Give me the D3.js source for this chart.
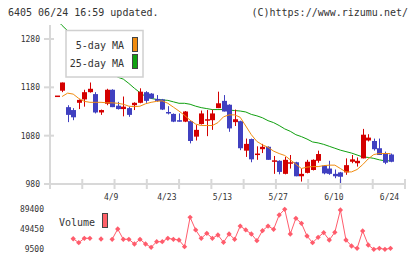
<html>
<head>
<style>
  body { margin: 0; background: #fff; }
  text { font-family: "DejaVu Sans Mono", monospace; fill: #333; }
</style>
</head>
<body>
<div id="chart"></div>
<script src="https://d3js.org/d3.v7.min.js"></script>
<script>
// date labels every 10 sessions
var tickIdx = [10, 20, 30, 40, 50, 60];
var tickLab = ["4/9", "4/23", "5/13", "5/27", "6/10", "6/24"];

var priceTicks = [1280, 1180, 1080, 980];
var volTicks = [89400, 49450, 9500];

// candles
var open  = [1163,1173,1139,1133,1148,1155,1170,1166,1128,1146,1175,1142,1135,1137,1143,1148,1170,1167,1156,1155,1129,1125,1112,1109,1110,1078,1104,1111,1112,1137,1152,1144,1108,1110,1049,1073,1041,1052,1057,1027,1028,1001,1023,1025,996,1003,1009,1028,1018,1012,1001,1004,1004,1026,1023,1033,1070,1069,1054,1044,1041];
var close = [1163,1190,1123,1118,1154,1170,1177,1128,1133,1175,1139,1135,1140,1123,1148,1171,1152,1157,1152,1134,1127,1109,1109,1130,1069,1092,1126,1114,1126,1147,1130,1095,1114,1054,1063,1031,1043,1057,1030,1029,1005,1030,1025,996,1001,1026,1030,1042,1002,1001,996,995,1019,1031,1028,1082,1076,1052,1040,1024,1026];
var high  = [1163,1190,1143,1137,1155,1175,1190,1170,1134,1177,1176,1150,1161,1140,1149,1178,1172,1168,1164,1156,1141,1126,1126,1131,1111,1102,1132,1133,1134,1171,1164,1145,1134,1111,1074,1074,1058,1063,1058,1038,1029,1036,1040,1026,1012,1030,1031,1049,1019,1028,1010,1005,1033,1040,1035,1094,1083,1074,1074,1047,1043];
var low   = [1163,1170,1108,1112,1135,1140,1169,1126,1123,1143,1139,1134,1120,1119,1133,1147,1148,1156,1150,1133,1124,1108,1109,1108,1064,1070,1103,1079,1092,1137,1130,1088,1100,1050,1036,1025,1030,1044,1030,1001,1000,1000,1012,996,985,1002,1008,1024,1000,999,992,980,999,1023,1016,1033,1068,1049,1040,1021,1025];

var ma5 = [null,1161,1168,1166,1157,1151,1149,1149,1149,1148,1148,1147,1145,1141,1140,1141,1146,1149,1151,1152,1147,1139,1131,1122,1112,1104,1101,1101,1101,1107,1119,1123,1123,1118,1100,1082,1068,1061,1056,1048,1043,1039,1030,1021,1012,1015,1016,1016,1018,1019,1019,1012,1005,1005,1010,1020,1032,1041,1043,1043,1043];
var ma25 = [1320,1308,1297,1287,1276,1265,1254,1243,1232,1222,1211,1201,1197,1188,1178,1169,1161,1157,1155,1154,1153,1150,1147,1147,1145,1141,1138,1136,1134,1134,1134,1133,1132,1131,1129,1124,1121,1117,1111,1107,1101,1094,1089,1082,1078,1073,1067,1065,1062,1058,1054,1050,1047,1044,1040,1036,1035,1033,1030,1028,1028];

var volume = [null,null,null,30000,22100,30900,30900,null,29500,null,28900,49450,28900,28900,19500,28900,19500,12900,24100,24100,30900,28900,27500,14100,72800,47500,30900,40900,30900,37500,22900,39500,28900,55400,47500,39500,26100,46100,55400,48800,77400,88800,39500,70800,60800,35500,22100,32900,42100,27500,42900,87400,27500,15500,10900,45500,17500,8900,10900,8900,10900];

var W = 420, H = 259;
var svg = d3.select("#chart").append("svg").attr("width", W).attr("height", H);

var idx = d3.range(close.length);
var x = d3.scalePoint().domain(idx).range([56.5, 390.5]);
var y = d3.scaleLinear().domain([980, 1280]).range([184, 39]);
var yv = d3.scaleLinear().domain([9500, 89400]).range([249, 209]);
var grid = d3.scaleLinear().domain([0, 11]).range([50, 405]);

// header
svg.append("text").attr("x", 8).attr("y", 16).style("font-size", "10px").text("6405 06/24 16:59 updated.");
svg.append("text").attr("x", 408).attr("y", 16).attr("text-anchor", "end").style("font-size", "10px").text("(C)https://www.rizumu.net/");

// frame
var axc = "#d8d8d8";
svg.append("line").attr("x1", 50).attr("x2", 50).attr("y1", 25).attr("y2", 189).attr("stroke", axc).attr("stroke-width", 2);
svg.append("line").attr("x1", 44).attr("x2", 405).attr("y1", 184).attr("y2", 184).attr("stroke", axc).attr("stroke-width", 2);
svg.append("g").selectAll("line").data(d3.range(1, 12)).enter().append("line")
  .attr("x1", grid).attr("x2", grid).attr("y1", 179).attr("y2", 189)
  .attr("stroke", axc).attr("stroke-width", 2);
svg.append("g").selectAll("line").data(priceTicks).enter().append("line")
  .attr("x1", 44).attr("x2", 54).attr("y1", y).attr("y2", y)
  .attr("stroke", axc).attr("stroke-width", 2);
svg.append("g").selectAll("text").data(priceTicks).enter().append("text")
  .attr("x", 40).attr("y", function(d){ return y(d) + 3; })
  .attr("text-anchor", "end").style("font-size", "8px").text(function(d){ return d; });

svg.append("g").selectAll("text").data(tickIdx).enter().append("text")
  .attr("x", function(d){ return x(d) - 1; }).attr("y", 200)
  .attr("text-anchor", "middle").style("font-size", "8px")
  .text(function(d, i){ return tickLab[i]; });

// plot clip
svg.append("clipPath").attr("id", "pc").append("rect").attr("x", 51).attr("y", 24).attr("width", 354).attr("height", 159);
var plot = svg.append("g").attr("clip-path", "url(#pc)");

var lineG = plot.append("g");
var c25 = d3.line().defined(function(d){ return d != null; }).x(function(d, i){ return x(i); }).y(function(d){ return y(d); });
lineG.append("path").attr("d", c25(ma25)).attr("fill", "none").attr("stroke", "#10a010").attr("stroke-width", 1);

var cg = plot.append("g");
idx.forEach(function(i) {
  var up = close[i] >= open[i];
  var col = up ? "#d40000" : "#4040c0";
  cg.append("line").attr("x1", Math.round(x(i)) + 0.5).attr("x2", Math.round(x(i)) + 0.5)
    .attr("y1", y(high[i])).attr("y2", y(low[i])).attr("stroke", col);
  var top = y(Math.max(open[i], close[i])), bot = y(Math.min(open[i], close[i]));
  cg.append("rect").attr("x", Math.round(x(i)) - 2).attr("width", 5)
    .attr("y", top).attr("height", Math.max(1.5, bot - top)).attr("fill", col);
});

plot.append("path").attr("d", c25(ma5)).attr("fill", "none").attr("stroke", "#f08c10").attr("stroke-width", 1);

// legend
var lg = svg.append("g");
lg.append("rect").attr("x", 66).attr("y", 30.5).attr("width", 77).attr("height", 46.5)
  .attr("fill", "#fff").attr("stroke", "#d0d0d0").attr("stroke-width", 1.5);
lg.append("text").attr("x", 124).attr("y", 49).attr("text-anchor", "end").style("font-size", "10px").text("5-day MA");
lg.append("text").attr("x", 124).attr("y", 67).attr("text-anchor", "end").style("font-size", "10px").text("25-day MA");
lg.append("rect").attr("x", 132.5).attr("y", 37.5).attr("width", 5).attr("height", 14).attr("fill", "#f08c10").attr("stroke", "#444");
lg.append("rect").attr("x", 132.5).attr("y", 54.5).attr("width", 5).attr("height", 14).attr("fill", "#10a010").attr("stroke", "#444");

// volume
svg.append("g").selectAll("text").data(volTicks).enter().append("text")
  .attr("x", 44).attr("y", function(d){ return yv(d) + 3; })
  .attr("text-anchor", "end").style("font-size", "8px").text(function(d){ return d; });
svg.append("text").attr("x", 59).attr("y", 226).style("font-size", "10px").text("Volume");
svg.append("rect").attr("x", 102.5).attr("y", 213.5).attr("width", 5).attr("height", 14).attr("fill", "#ff6068").attr("stroke", "#444");

var vcol = "#ff5c6c";
svg.append("path").attr("d", c25.y(function(d){ return yv(d); })(volume))
  .attr("fill", "none").attr("stroke", vcol).attr("stroke-width", 1);
svg.append("g").selectAll("path").data(idx.filter(function(i){ return volume[i] != null; })).enter().append("path")
  .attr("d", d3.symbol(d3.symbolSquare, 14))
  .attr("transform", function(i){ return "translate(" + x(i) + "," + yv(volume[i]) + ") rotate(45)"; })
  .attr("fill", vcol);
</script>
</body>
</html>
